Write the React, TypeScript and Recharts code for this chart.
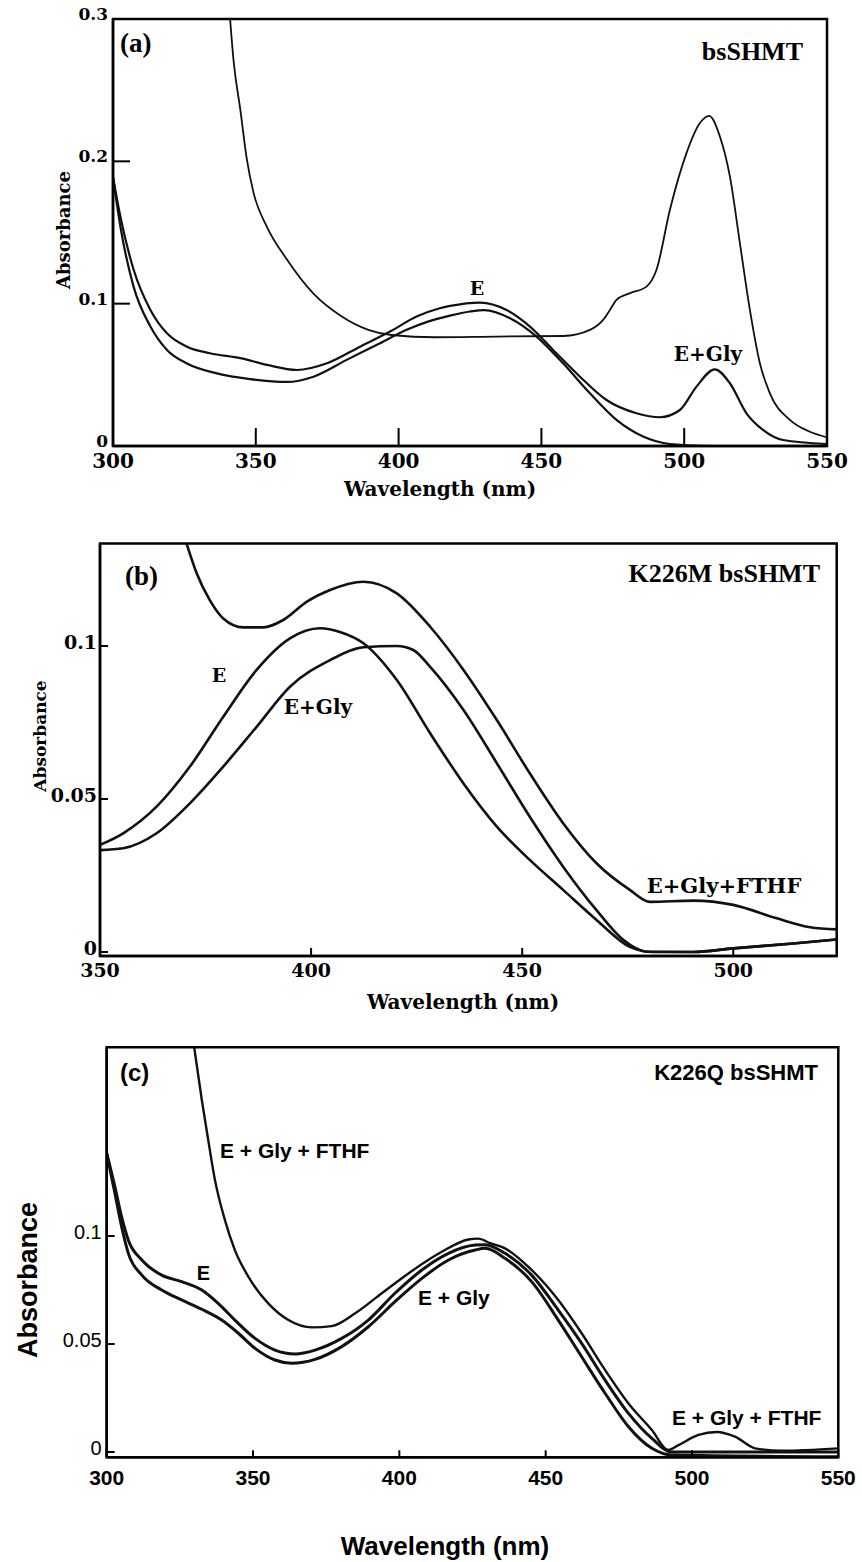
import React from "react";
import { LineChart, Line, XAxis, YAxis, ReferenceArea } from "recharts";

// ---- panel (a): bsSHMT ----
const aTicksX = [300, 350, 400, 450, 500, 550];
const aTicksY = [0, 0.1, 0.2, 0.3];
const aE_wl = [300, 302.6, 307.2, 313.1, 318.9, 325.9, 336.4, 348, 360.9, 370.2, 381.8, 393.5, 402.8, 410, 418, 425, 430, 439, 448.3, 457.6, 467, 476.3, 485.6, 495, 510, 550];
const aE_abs = [0.189, 0.154, 0.112, 0.084, 0.0675, 0.058, 0.051, 0.047, 0.045, 0.0487, 0.0605, 0.0722, 0.0816, 0.0872, 0.0916, 0.0945, 0.0955, 0.0898, 0.0769, 0.0581, 0.037, 0.0183, 0.0066, 0.0014, 0, 0];
const aEGly_wl = [300, 302.6, 307.2, 313.1, 318.9, 325.9, 334, 344.6, 353.9, 364.4, 374.9, 386.5, 397, 406.3, 414.4, 418, 428.5, 437.8, 446, 454.1, 463.5, 472.8, 483.3, 491.5, 498.5, 504.3, 510.7, 516, 521.8, 527.6, 534.6, 550];
const aEGly_abs = [0.189, 0.161, 0.124, 0.0956, 0.0792, 0.0698, 0.0652, 0.0617, 0.057, 0.0534, 0.0581, 0.0698, 0.0804, 0.0909, 0.0968, 0.0984, 0.1008, 0.0956, 0.0839, 0.0675, 0.0487, 0.0323, 0.023, 0.0202, 0.0253, 0.0417, 0.0539, 0.0441, 0.023, 0.0113, 0.0042, 0.0014];
const aFthf_wl = [341, 342.2, 344.6, 346.9, 349.2, 353.9, 360.9, 370.2, 380.1, 389.4, 397.5, 412.7, 434.3, 457.6, 467, 471.6, 474, 476.3, 481, 486.8, 490.3, 495, 500.8, 505.5, 508.7, 512.5, 516, 519.5, 523, 526.5, 530, 537, 544, 550];
const aFthf_abs = [0.3, 0.271, 0.236, 0.201, 0.178, 0.154, 0.131, 0.107, 0.091, 0.0816, 0.078, 0.0764, 0.0769, 0.0773, 0.0816, 0.0886, 0.0956, 0.1027, 0.1074, 0.112, 0.1238, 0.166, 0.2058, 0.2269, 0.232, 0.2175, 0.1894, 0.1425, 0.0956, 0.0581, 0.037, 0.0183, 0.01, 0.0061];

// ---- panel (b): K226M bsSHMT ----
const bTicksX = [350, 400, 450, 500];
const bTicksY = [0, 0.05, 0.1];
const bE_wl = [350, 355.5, 363.4, 371.3, 379.2, 387.1, 395, 402.1, 407, 412.4, 420.3, 428.2, 436.1, 444, 451.8, 459.7, 467.6, 475.5, 481, 490.5, 500, 514.2, 524.5];
const bE_abs = [0.035, 0.0388, 0.0475, 0.0606, 0.0769, 0.0922, 0.1025, 0.1058, 0.1045, 0.1009, 0.0889, 0.0715, 0.0551, 0.041, 0.0301, 0.0203, 0.0105, 0.0017, 0, 0, 0.0012, 0.0028, 0.0041];
const bEGly_wl = [350, 355.5, 363.4, 371.3, 379.2, 387.1, 395, 404.5, 412.4, 420.3, 424.2, 428.2, 436.1, 444, 451.8, 459.7, 467.6, 474, 479.5, 490.5, 500, 514.2, 524.5];
const bEGly_abs = [0.0333, 0.0339, 0.0388, 0.0486, 0.0606, 0.0736, 0.0867, 0.0954, 0.0996, 0.1, 0.0987, 0.0932, 0.0791, 0.0617, 0.0442, 0.0279, 0.0137, 0.0039, 0.0001, 0, 0.0012, 0.0028, 0.0041];
const bFthf_wl = [370.5, 372.9, 376, 379.2, 383.9, 388.7, 393.4, 399, 404.5, 412.4, 420.3, 428.2, 436.1, 444, 451.8, 459.7, 467.6, 475.5, 480.3, 490.5, 500, 510.3, 518.2, 524.5];
const bFthf_abs = [0.1335, 0.1238, 0.115, 0.109, 0.1061, 0.1061, 0.1085, 0.1145, 0.1183, 0.121, 0.1172, 0.1063, 0.0922, 0.0758, 0.0584, 0.0421, 0.029, 0.0203, 0.0164, 0.0168, 0.0154, 0.011, 0.0081, 0.0074];

// ---- panel (c): K226Q bsSHMT ----
const cTicksX = [300, 350, 400, 450, 500, 550];
const cTicksY = [0, 0.05, 0.1];
const cE_wl = [300, 302.8, 305.1, 307.4, 312, 318.8, 325.6, 332.5, 338.1, 343.8, 350.7, 357.5, 364.4, 371.2, 380.3, 389.4, 398.5, 407.7, 416.8, 425.9, 429.3, 436.1, 445.2, 454.3, 462.3, 470.3, 478.3, 486.3, 493.1, 502.2, 550];
const cE_abs = [0.1383, 0.1228, 0.1089, 0.0981, 0.0889, 0.0819, 0.0789, 0.075, 0.0688, 0.0611, 0.0526, 0.0472, 0.0454, 0.0472, 0.0526, 0.0611, 0.0735, 0.0843, 0.092, 0.0958, 0.096, 0.092, 0.0819, 0.0657, 0.0503, 0.0333, 0.0179, 0.0063, 0, 0, 0];
const cEGly_wl = [300, 302.8, 305.1, 307.4, 312, 318.8, 325.6, 332.5, 339.3, 345, 350.7, 357.5, 363.2, 371.2, 380.3, 389.4, 398.5, 407.7, 416.8, 425.9, 429.3, 436.1, 445.2, 454.3, 462.3, 470.3, 478.3, 486.3, 493.1, 550];
const cEGly_abs = [0.1383, 0.1198, 0.1043, 0.092, 0.0819, 0.075, 0.0704, 0.0661, 0.0611, 0.055, 0.048, 0.0426, 0.0411, 0.0429, 0.0488, 0.058, 0.0696, 0.0804, 0.0889, 0.0935, 0.0943, 0.0897, 0.0789, 0.0611, 0.0441, 0.0272, 0.0117, 0.0017, -0.0014, -0.0022];
const cFthf_wl = [329.9, 332.5, 334.7, 337, 340.4, 343.8, 348.4, 355.2, 362.1, 370.1, 376.9, 384.9, 394, 403.1, 414.5, 423.6, 427, 431, 436.1, 445.2, 454.3, 462.3, 470.3, 478.3, 486.3, 491.9, 495.4, 502.2, 508.5, 514.7, 521.6, 530.7, 550];
const cFthf_abs = [0.1874, 0.163, 0.1444, 0.1259, 0.1074, 0.0935, 0.0812, 0.0688, 0.0611, 0.0577, 0.0583, 0.0642, 0.0735, 0.0827, 0.0927, 0.0984, 0.0988, 0.0967, 0.0943, 0.0843, 0.0704, 0.055, 0.038, 0.0225, 0.0102, 0.0009, 0.0032, 0.0079, 0.0093, 0.0071, 0.0017, 0.0006, 0.0017];

const toPoints = (wl: number[], abs: number[]) => wl.map((w, i) => ({ wl: w, abs: abs[i] }));

const serifBold = { fontFamily: '"DejaVu Serif", serif', fontWeight: 700 };
const timesBold = { fontFamily: '"Liberation Serif", serif', fontWeight: 700 };
const sansBold = { fontFamily: '"Liberation Sans", Arial, sans-serif', fontWeight: 700 };

type Series = { data: { wl: number; abs: number }[]; width: number };

function Panel(props: {
  top: number;
  height: number;
  margin: { top: number; right: number; bottom: number; left: number };
  xDomain: [number, number];
  yDomain: [number, number];
  xTicks: number[];
  yTicks: number[];
  xTickSize: number;
  xTickMargin: number;
  yTickSize: number;
  yTickMargin: number;
  yTickDy: number;
  xFont: any;
  yFont: any;
  series: Series[];
  children?: React.ReactNode;
}) {
  const p = props;
  return (
    <div style={{ position: "absolute", left: 0, top: p.top }}>
      <LineChart width={862} height={p.height} margin={p.margin}>
        <XAxis
          type="number"
          dataKey="wl"
          domain={p.xDomain}
          ticks={p.xTicks}
          interval={0}
          allowDataOverflow
          stroke="#000"
          strokeWidth={2.5}
          tickSize={p.xTickSize}
          tickMargin={p.xTickMargin}
          tickLine={{ stroke: "#000", strokeWidth: 2 }}
          tick={{ fill: "#000", ...p.xFont }}
        />
        <YAxis
          type="number"
          dataKey="abs"
          domain={p.yDomain}
          ticks={p.yTicks}
          interval={0}
          allowDataOverflow
          stroke="#000"
          strokeWidth={2.5}
          tickSize={p.yTickSize}
          tickMargin={p.yTickMargin}
          tickLine={{ stroke: "#000", strokeWidth: 2 }}
          tick={{ fill: "#000", dy: p.yTickDy, ...p.yFont }}
        />
        <ReferenceArea
          x1={p.xDomain[0]}
          x2={p.xDomain[1]}
          y1={p.yDomain[0]}
          y2={p.yDomain[1]}
          fill="none"
          stroke="#000"
          strokeWidth={2.5}
          strokeOpacity={1}
        />
        {p.series.map((s, i) => (
          <Line
            key={i}
            data={s.data}
            dataKey="abs"
            type="monotone"
            stroke="#111"
            strokeWidth={s.width}
            dot={false}
            activeDot={false}
            isAnimationActive={false}
          />
        ))}
        {p.children}
      </LineChart>
    </div>
  );
}

export default function App() {
  return (
    <div style={{ position: "absolute", left: 0, top: 0, width: 862, height: 1562, background: "#fff" }}>
      {/* (a) */}
      <Panel
        top={0}
        height={520}
        margin={{ top: 19, right: 35, bottom: 44, left: 53 }}
        xDomain={[300, 550]}
        yDomain={[0, 0.3]}
        xTicks={aTicksX}
        yTicks={aTicksY}
        xTickSize={-18}
        xTickMargin={26}
        yTickSize={-17}
        yTickMargin={22}
        yTickDy={-5}
        xFont={{ fontSize: 20, ...serifBold }}
        yFont={{ fontSize: 17, ...serifBold }}
        series={[
          { data: toPoints(aE_wl, aE_abs), width: 2.2 },
          { data: toPoints(aEGly_wl, aEGly_abs), width: 2.2 },
          { data: toPoints(aFthf_wl, aFthf_abs), width: 1.8 },
        ]}
      >
        <text x={120} y={52} fontSize={27} {...timesBold}>(a)</text>
        <text x={803} y={60} fontSize={26} textAnchor="end" {...timesBold}>bsSHMT</text>
        <text x={477} y={295} fontSize={19} textAnchor="middle" {...serifBold}>E</text>
        <text x={708} y={361} fontSize={20} textAnchor="middle" {...serifBold}>E+Gly</text>
        <text x={440} y={496} fontSize={20} textAnchor="middle" {...serifBold}>Wavelength (nm)</text>
        <text x={70} y={230} fontSize={18} textAnchor="middle" transform="rotate(-90 70 230)" {...serifBold}>Absorbance</text>
      </Panel>

      {/* (b) */}
      <Panel
        top={520}
        height={500}
        margin={{ top: 23.5, right: 25.3, bottom: 34, left: 40 }}
        xDomain={[350, 524.5]}
        yDomain={[-0.0013, 0.1335]}
        xTicks={bTicksX}
        yTicks={bTicksY}
        xTickSize={-8}
        xTickMargin={16}
        yTickSize={-8}
        yTickMargin={11}
        yTickDy={-4}
        xFont={{ fontSize: 19, ...serifBold }}
        yFont={{ fontSize: 19, ...serifBold }}
        series={[
          { data: toPoints(bE_wl, bE_abs), width: 2.6 },
          { data: toPoints(bEGly_wl, bEGly_abs), width: 2.6 },
          { data: toPoints(bFthf_wl, bFthf_abs), width: 2.6 },
        ]}
      >
        <text x={125} y={65} fontSize={27} {...timesBold}>(b)</text>
        <text x={820} y={62} fontSize={26} textAnchor="end" {...timesBold}>K226M bsSHMT</text>
        <text x={219} y={162} fontSize={19} textAnchor="middle" {...serifBold}>E</text>
        <text x={318} y={194} fontSize={20} textAnchor="middle" {...serifBold}>E+Gly</text>
        <text x={724} y={373} fontSize={21} textAnchor="middle" {...serifBold}>E+Gly+FTHF</text>
        <text x={463} y={489} fontSize={20} textAnchor="middle" {...serifBold}>Wavelength (nm)</text>
        <text x={46} y={216} fontSize={17} textAnchor="middle" transform="rotate(-90 46 216)" {...serifBold}>Absorbance</text>
      </Panel>

      {/* (c) */}
      <Panel
        top={1020}
        height={542}
        margin={{ top: 27.3, right: 23.7, bottom: 74.7, left: 46.7 }}
        xDomain={[300, 550]}
        yDomain={[-0.00245, 0.1874]}
        xTicks={cTicksX}
        yTicks={cTicksY}
        xTickSize={-7}
        xTickMargin={20}
        yTickSize={-8}
        yTickMargin={13}
        yTickDy={-4}
        xFont={{ fontSize: 21, ...sansBold }}
        yFont={{ fontSize: 20, fontFamily: '"Liberation Sans", Arial, sans-serif' }}
        series={[
          { data: toPoints(cE_wl, cE_abs), width: 3 },
          { data: toPoints(cEGly_wl, cEGly_abs), width: 3 },
          { data: toPoints(cFthf_wl, cFthf_abs), width: 2.4 },
        ]}
      >
        <text x={120} y={61} fontSize={24} {...sansBold}>(c)</text>
        <text x={818} y={60} fontSize={22} textAnchor="end" {...sansBold}>K226Q bsSHMT</text>
        <text x={220} y={138} fontSize={21} {...sansBold}>E + Gly + FTHF</text>
        <text x={203.5} y={260} fontSize={20} textAnchor="middle" {...sansBold}>E</text>
        <text x={418} y={285} fontSize={21} {...sansBold}>E + Gly</text>
        <text x={672} y={405} fontSize={21} {...sansBold}>E + Gly + FTHF</text>
        <text x={445} y={535} fontSize={26} textAnchor="middle" {...sansBold}>Wavelength (nm)</text>
        <text x={37} y={260} fontSize={27} textAnchor="middle" transform="rotate(-90 37 260)" {...sansBold}>Absorbance</text>
      </Panel>
    </div>
  );
}
